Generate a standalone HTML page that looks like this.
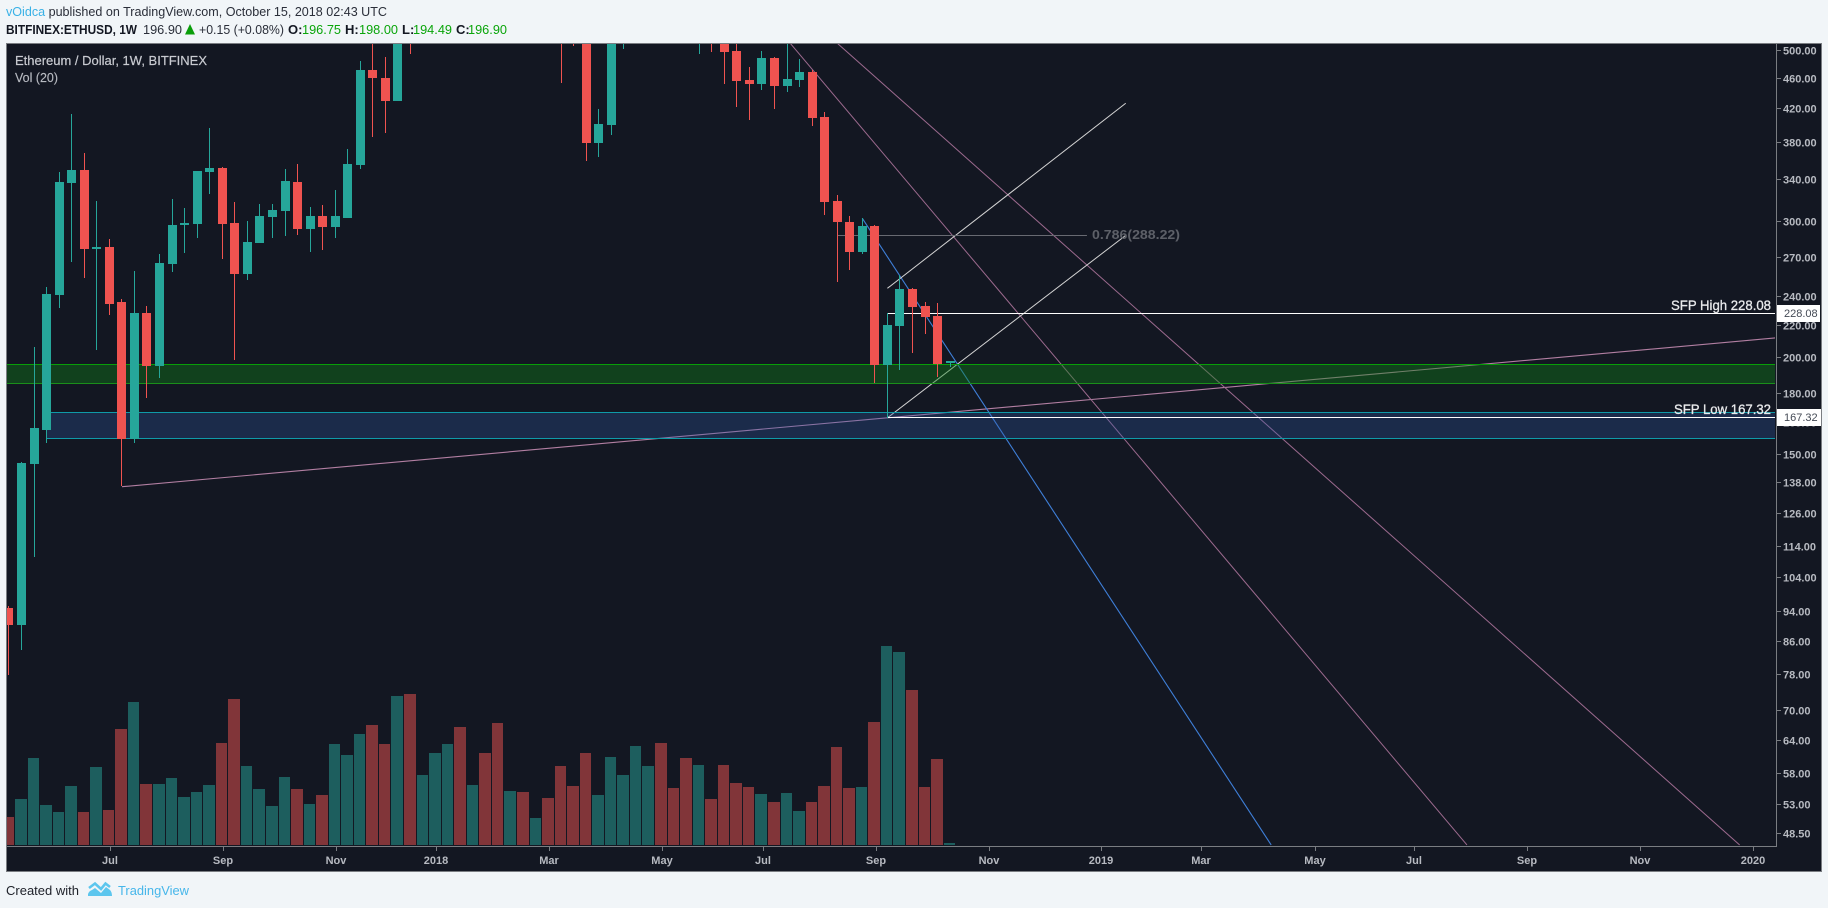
<!DOCTYPE html>
<html lang="en">
<head>
<meta charset="utf-8">
<title>ETHUSD 1W chart</title>
<style>
html,body{margin:0;padding:0;background:#f1f5f8;width:1828px;height:908px;overflow:hidden}
svg{display:block;font-family:"Liberation Sans",Arial,sans-serif}
</style>
</head>
<body>
<svg id="chart" xmlns="http://www.w3.org/2000/svg" width="1828" height="908" viewBox="0 0 1828 908">
  <defs>
    <clipPath id="plot-clip"><rect x="7" y="44" width="1768" height="802"/></clipPath>
  </defs>
  <rect x="0" y="0" width="1828" height="908" fill="#f1f5f8"/>

  <text x="6" y="16" font-size="13" fill="#2a2e39" textLength="381" lengthAdjust="spacingAndGlyphs"><tspan fill="#39b1e6">vOidca</tspan> published on TradingView.com, October 15, 2018 02:43 UTC</text>

  <text x="6" y="34" font-size="13" font-weight="bold" fill="#131722" textLength="131" lengthAdjust="spacingAndGlyphs">BITFINEX:ETHUSD, 1W</text>
  <text x="143" y="34" font-size="13" fill="#2a2e39" textLength="39" lengthAdjust="spacingAndGlyphs">196.90</text>
  <polygon points="185,34.5 190,24 195,34.5" fill="#0a9e0a"/>
  <text x="199" y="34" font-size="13" fill="#2a2e39" textLength="85" lengthAdjust="spacingAndGlyphs">+0.15 (+0.08%)</text>
  <text x="288" y="34" font-size="13" font-weight="bold" fill="#131722">O:</text>
  <text x="302" y="34" font-size="13" fill="#0aa50a" textLength="39" lengthAdjust="spacingAndGlyphs">196.75</text>
  <text x="345" y="34" font-size="13" font-weight="bold" fill="#131722">H:</text>
  <text x="359" y="34" font-size="13" fill="#0aa50a" textLength="39" lengthAdjust="spacingAndGlyphs">198.00</text>
  <text x="402" y="34" font-size="13" font-weight="bold" fill="#131722">L:</text>
  <text x="413" y="34" font-size="13" fill="#0aa50a" textLength="39" lengthAdjust="spacingAndGlyphs">194.49</text>
  <text x="456" y="34" font-size="13" font-weight="bold" fill="#131722">C:</text>
  <text x="468" y="34" font-size="13" fill="#0aa50a" textLength="39" lengthAdjust="spacingAndGlyphs">196.90</text>

  <rect x="6.5" y="43.5" width="1815" height="828" fill="#131722" stroke="#7a7d82" stroke-width="1"/>

  <g id="plot" clip-path="url(#plot-clip)"></g>

  <line x1="1776.5" y1="44" x2="1776.5" y2="847" stroke="#7a7d82" stroke-width="1"/>
  <line x1="7" y1="846.5" x2="1777" y2="846.5" stroke="#7a7d82" stroke-width="1"/>
  <g id="price-axis"></g>
  <g id="time-axis"></g>

  <text x="15" y="65" font-size="13" fill="#c9cbd1" stroke="#c9cbd1" stroke-width="0.2" textLength="192" lengthAdjust="spacingAndGlyphs">Ethereum / Dollar, 1W, BITFINEX</text>
  <text x="15" y="82" font-size="13" fill="#b7bac1" stroke="#b7bac1" stroke-width="0.15" textLength="43" lengthAdjust="spacingAndGlyphs">Vol (20)</text>

  <text x="1092" y="239" font-size="13" font-weight="bold" fill="#5d6068" textLength="88" lengthAdjust="spacingAndGlyphs">0.786(288.22)</text>
  <text x="1671" y="310" font-size="14" fill="#e9eaec" stroke="#e9eaec" stroke-width="0.3" textLength="100" lengthAdjust="spacingAndGlyphs">SFP High 228.08</text>
  <text x="1674" y="414" font-size="14" fill="#e9eaec" stroke="#e9eaec" stroke-width="0.3" textLength="97" lengthAdjust="spacingAndGlyphs">SFP Low 167.32</text>

  <g>
    <rect x="1777" y="305" width="43" height="17" fill="#ffffff"/>
    <text x="1784" y="317" font-size="11" fill="#444a55">228.08</text>
  </g>
  <g>
    <rect x="1777" y="409" width="44" height="17" fill="#ffffff"/>
    <text x="1784" y="421" font-size="11" fill="#444a55">167.32</text>
  </g>

  <text x="6" y="895" font-size="13" fill="#20232b" textLength="73" lengthAdjust="spacingAndGlyphs">Created with</text>
  <g>
    <path d="M89 888 L95 883.5 L101 889 L105.5 883.5 L110 887" fill="none" stroke="#5cc6ee" stroke-width="2.6"/>
    <path d="M88 896 L88 894 Q89 891 92 890 L95 888 L101 893 L106 887 L110 890 Q112 892 112 896 Z" fill="#5cc6ee"/>
  </g>
  <text x="118" y="895" font-size="13" fill="#46b6ea" textLength="71" lengthAdjust="spacingAndGlyphs">TradingView</text>

<script>
const opens = [95.0,90.2,145.9,161.4,241.2,336.6,349.8,276.5,278.1,236.2,
157.1,228.6,195.2,264.4,297,297.9,347.7,351.9,298.8,256.7,
281.6,304.2,309.7,337.6,293.5,305.1,295.2,303.3,355.1,471.1,
460,429.6,700,660,720,755,985,940,1260,1130,
800,1050,680,930,720,600,560,379.2,400,510,
630,700,750,690,600,530,600,520,498.5,457.3,
452.2,488.2,449.2,457.3,468.3,409.6,319,299.7,274.1,296.1,
195.8,219.9,245.5,233.4,226.6,196.75];
const highs = [95.5,146.7,206.6,247,347.7,413.3,368,319,284.9,238.3,
259,233.4,272.4,320.9,312.5,348.8,396.5,353,318.1,300.6,
316.2,316.2,350.9,356.2,313.4,315.3,329.6,372.4,483.9,520,
489.6,760,740,760,780,1000,1100,1420,1300,1165,
1180,1100,950,970,770,630,600,419.4,520,640,
720,770,830,720,650,620,620,540,510,475.3,
498.5,489.6,515,486.7,471.1,415.7,324.8,305.1,303.3,297,
228.6,255.9,246.3,236.2,235.5,198];
const lows = [77.8,83.8,110.6,155.2,232,266,253.7,204.8,227.2,136.6,
155.2,177.5,188.4,258.3,273.2,285.8,325.7,268.4,198.7,252.2,
281.6,285.8,287.5,288.3,274.1,275.7,285.8,303.3,350.9,386,
390.6,429.6,494,620,680,730,900,920,950,800,
760,560,580,660,453.2,506,359.3,363.6,388.2,501.5,
600,680,660,580,510,494,497,452.2,422,406,
443.9,419.4,441.3,447.9,398.9,306,250.7,259.8,272.4,185.6,
167.32,192.9,203,214.7,189,194.49];
const closes = [90.2,146.3,162.4,241.9,337.6,349.8,276.5,278.1,234.8,157.1,
228.6,195.2,265.2,297,298.8,348.8,351.9,297.9,256.7,282.4,
305.1,310.6,338.6,293.5,305.1,295.2,305.1,356.2,471.1,460,
429.6,700,660,720,755,985,940,1260,1130,960,
1050,680,930,720,600,560,379.2,401.2,510,630,
700,750,690,600,530,600,520,497,456,452.2,
488.2,449.2,458.7,468.3,408.4,318.1,299.7,274.1,296.1,195.8,
220.6,245.5,232.7,225.9,196.4,196.9];
const volumes = [280,460,870,400,330,590,330,780,350,1160,
1430,610,610,670,480,530,600,1020,1460,790,
560,390,680,560,410,500,1010,900,1110,1200,
1010,1490,1510,700,920,1010,1180,600,920,1220,
540,530,270,470,790,590,920,500,880,700,
990,790,1020,570,870,800,460,800,620,580,
510,430,520,340,430,590,980,570,580,1230,
1990,1930,1550,580,860,20];

const priceTicks = [500,460,420,380,340,300,270,240,220,200,180,165,150,138,126,114,104,94,86,78,70,64,58,53,48.5];
const timeTickBars = [8.12,17.12,26.1,34.1,43.1,52.1,60.1,69.1,78.1,87.08,95.05,104.1,112,121,130.03,139.04];
const timeTickLabels = ["Jul","Sep","Nov","2018","Mar","May","Jul","Sep","Nov","2019","Mar","May","Jul","Sep","Nov","2020"];

const greenZone = [196.2,185.3];
const blueZone = [170,157.3];
const sfpHigh = 228.08;
const sfpLow = 167.32;
const fibLevel = 288.22;
const fibBars = [66,85.9];
const zoneStartBar = 3;
const levelStartBar = 70;
const rightBar = 141;

const blueFanLine = [68,303.0,100.58,46.93];
const pinkFanInner = [62.24,510.5,116.18,46.93];
const pinkFanOuter = [66.01,510.1,137.91,46.93];
const pinkTrendLine = [9.01,136.3,140.73,212.2];
const whiteChannelUpper = [70,246.0,88.99,426.7];
const whiteChannelLower = [70,167.32,88.99,288.0];

const NS = "http://www.w3.org/2000/svg";
const plot = document.getElementById("plot");
const priceAxis = document.getElementById("price-axis");
const timeAxis = document.getElementById("time-axis");

function yPrice(p){ return 50 + 336 * Math.log(500 / p); }
function xBar(i){ return Math.round(8.4 + 12.55 * i + 1e-9); }
function xLine(i){ return 8.9 + 12.55 * i; }
function yVol(v){ return 845 - v * 0.1; }

function make(tag, attrs, parent){
  const el = document.createElementNS(NS, tag);
  for (const k in attrs) el.setAttribute(k, attrs[k]);
  parent.appendChild(el);
  return el;
}
function drawLine(d, color, width){
  const el = make("line", {x1:xLine(d[0]), y1:yPrice(d[1]), x2:xLine(d[2]), y2:yPrice(d[3]), stroke:color, "stroke-width":width}, plot);
  return el;
}
function level(price, b1, b2, color){
  const x1 = xBar(b1);
  const el = make("rect", {x:x1, y:Math.floor(yPrice(price)), width:Math.max(0, xLine(b2) - x1), height:1, fill:color}, plot);
  return el;
}

/* drawings beneath the zones */
let ln;
ln = drawLine(pinkTrendLine, "#b27fa2", 1.1);


ln = drawLine(pinkFanInner, "#9c6a8e", 1);


ln = drawLine(pinkFanOuter, "#9c6a8e", 1);


ln = drawLine(blueFanLine, "#3f7fd8", 1.1);


ln = drawLine(whiteChannelUpper, "#d4d4d4", 1);


ln = drawLine(whiteChannelLower, "#d4d4d4", 1);



ln = level(fibLevel, fibBars[0], fibBars[1], "#686a72");



/* zones */
const gTop = Math.floor(yPrice(greenZone[0]));
const gBot = Math.floor(yPrice(greenZone[1]));
const gz = make("rect", {x:7, y:gTop, width:1768, height:gBot-gTop, fill:"rgba(16,130,22,0.4)"}, plot);


ln = level(greenZone[0], -1, rightBar, "#089e08");


ln = level(greenZone[1], -1, rightBar, "#1a8f1a");



const bTop = Math.floor(yPrice(blueZone[0]));
const bBot = Math.floor(yPrice(blueZone[1]));
const zoneX = xBar(zoneStartBar);
const bz = make("rect", {x:zoneX, y:bTop, width:1775-zoneX, height:bBot-bTop, fill:"rgba(48,90,168,0.3)"}, plot);


ln = level(blueZone[0], zoneStartBar, rightBar, "#0f9aa8");


ln = level(blueZone[1], zoneStartBar, rightBar, "#0f9aa8");



/* horizontal SFP levels, drawn behind the candles */
const sfpH = level(sfpHigh, levelStartBar, rightBar, "#ffffff");


const sfpL = level(sfpLow, levelStartBar, rightBar, "#ffffff");



/* volume bars */
volumes.forEach(function(v, i){
  const up = closes[i] >= opens[i];
  const left = xBar(i) - 6;
  const right = xBar(i + 1) - 7;
  const top = Math.round(yVol(v));
  const bar = make("rect", {x:left, y:top, width:right-left, height:845-top, fill:up ? "#1d5e5e" : "#813539"}, plot);
  
  
});

/* candles */
opens.forEach(function(o, i){
  const c = closes[i];
  const up = c >= o;
  const color = up ? "#26a69a" : "#ef5350";
  const x = xBar(i);
  const wt = Math.round(yPrice(highs[i]));
  const wb = Math.round(yPrice(lows[i]));
  let bt = Math.round(yPrice(Math.max(o, c)));
  const bb = Math.round(yPrice(Math.min(o, c)));
  if (bb - bt < 2) bt = bb - 2;
  const wick = make("rect", {x:x, y:wt, width:1, height:Math.max(1, wb-wt), fill:color}, plot);
  
  
  const body = make("rect", {x:x-4, y:bt, width:9, height:bb-bt, fill:color}, plot);
  
  
});

/* price axis */
priceTicks.forEach(function(p){
  const y = Math.floor(yPrice(p));
  const tick = make("rect", {x:1777, y:y, width:4, height:1, fill:"#7a7d82"}, priceAxis);
  
  
  const label = make("text", {x:1783, y:y+4.5, "font-size":11, "font-weight":"bold", fill:"#b7bac1"}, priceAxis);
  
  
  label.textContent = p.toFixed(2);
});

/* time axis */
timeTickBars.forEach(function(b, i){
  const x = xBar(b);
  const tick = make("rect", {x:x, y:847, width:1, height:4, fill:"#7a7d82"}, timeAxis);
  
  
  const label = make("text", {x:x, y:864, "font-size":11, "font-weight":"bold", fill:"#b7bac1", "text-anchor":"middle"}, timeAxis);
  
  
  label.textContent = timeTickLabels[i];
});
</script>
</svg>
</body>
</html>
